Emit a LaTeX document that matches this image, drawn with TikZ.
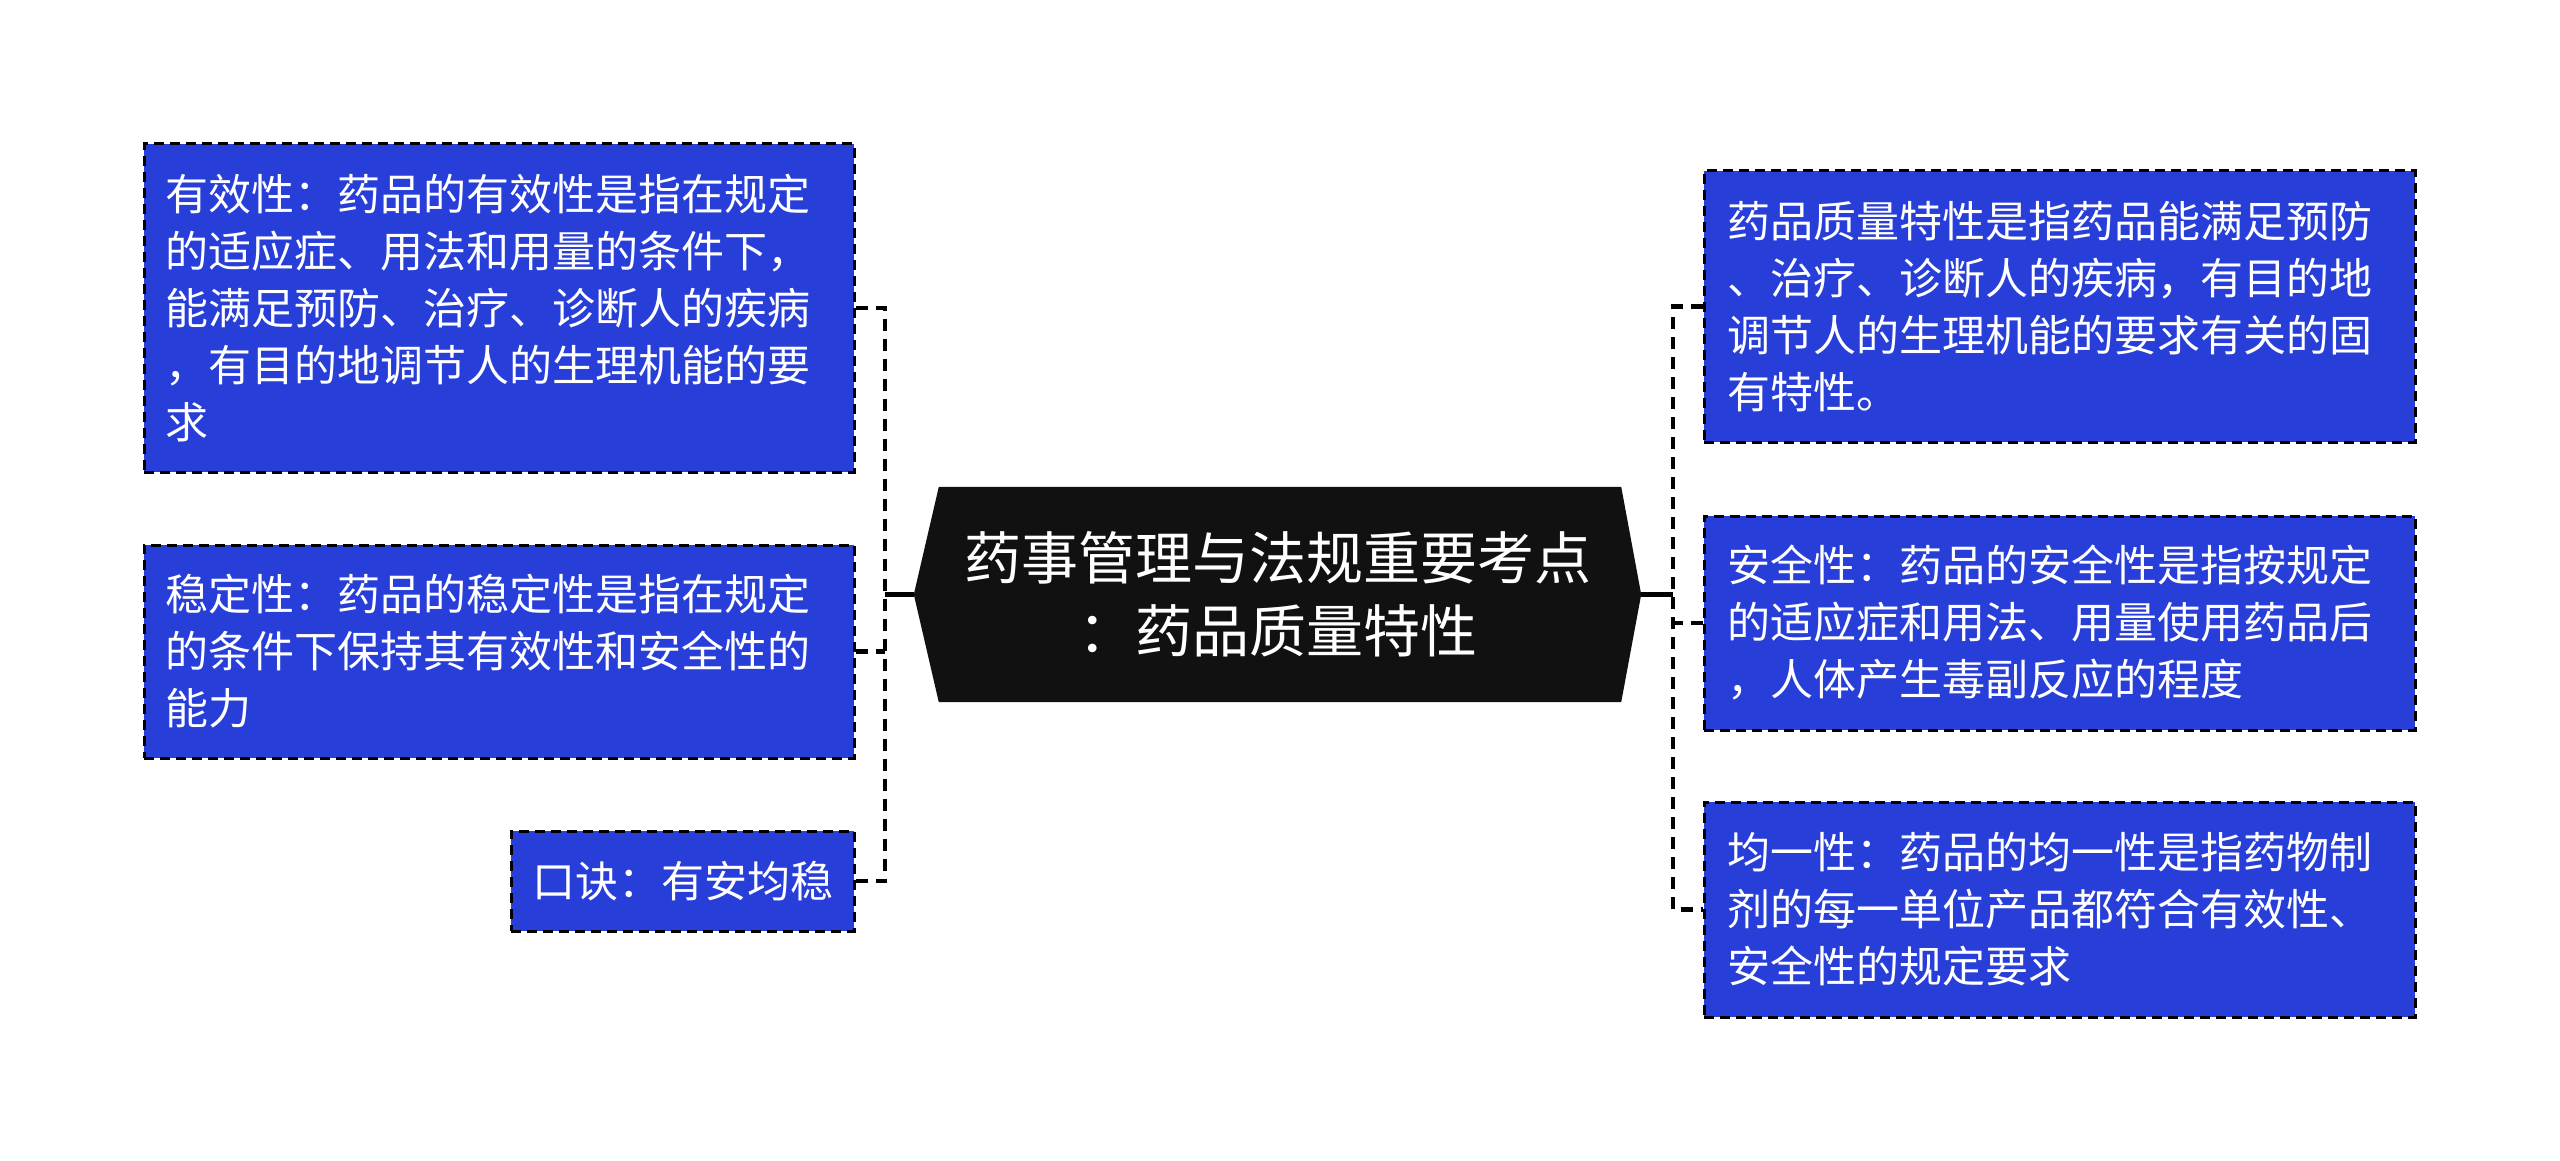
\documentclass[tikz,border=0pt]{standalone}
\usepackage{fontspec}
\newfontfamily\cjk{Noto Sans CJK SC}
\definecolor{boxblue}{RGB}{40,62,216}
\definecolor{centerblack}{RGB}{17,17,17}
\tikzset{
  leaf/.style={draw=black, line width=3pt, dash pattern=on 10pt off 6pt, fill=boxblue,
    text=white, inner sep=0pt, font=\cjk\fontsize{43}{57}\selectfont, align=left},
  conn/.style={black, line width=4.5pt, dash pattern=on 12pt off 8pt},
  solidconn/.style={black, line width=4.5pt}
}
\begin{document}
\begin{tikzpicture}[x=1pt,y=-1pt]
\useasboundingbox[fill=white] (0,0) rectangle (2560,1161);

% left boxes
\node[leaf, minimum width=710pt, minimum height=328pt, text width=668pt] (L1) at (499,308)
  {有效性：药品的有效性是指在规定\\的适应症、用法和用量的条件下，\\能满足预防、治疗、诊断人的疾病\\，有目的地调节人的生理机能的要\\求};
\node[leaf, minimum width=710pt, minimum height=213pt, text width=668pt] (L2) at (499,651.5)
  {稳定性：药品的稳定性是指在规定\\的条件下保持其有效性和安全性的\\能力};
\node[leaf, minimum width=343pt, minimum height=100pt, align=center] (L3) at (682.5,881)
  {口诀：有安均稳};

% right boxes
\node[leaf, minimum width=711pt, minimum height=271pt, text width=665pt] (R1) at (2059.5,306.5)
  {药品质量特性是指药品能满足预防\\、治疗、诊断人的疾病，有目的地\\调节人的生理机能的要求有关的固\\有特性。};
\node[leaf, minimum width=711pt, minimum height=214pt, text width=665pt] (R2) at (2059.5,623)
  {安全性：药品的安全性是指按规定\\的适应症和用法、用量使用药品后\\，人体产生毒副反应的程度};
\node[leaf, minimum width=711pt, minimum height=215pt, text width=665pt] (R3) at (2059.5,909.5)
  {均一性：药品的均一性是指药物制\\剂的每一单位产品都符合有效性、\\安全性的规定要求};

% center
\node[minimum width=727pt, minimum height=215pt, inner sep=0pt] (C) at (1277.5,594.5) {};
\fill[centerblack] ([xshift=25pt]C.north west) -- ([xshift=-20pt]C.north east) -- (C.east)
  -- ([xshift=-20pt]C.south east) -- ([xshift=25pt]C.south west) -- (C.west) -- cycle;
\node[text=white, font=\cjk\fontsize{57}{73}\selectfont, align=center] (CT) at (C.center)
  {药事管理与法规重要考点\\：药品质量特性};

% connectors
\coordinate (lx) at (885,0);
\coordinate (rx) at (1673,0);
\draw[conn] (L1.east) -- (L1.east -| lx) -- (L3.east -| lx) -- (L3.east);
\draw[conn] (L2.east) -- (L2.east -| lx);
\draw[solidconn] (C.west) -- (C.west -| lx);
\draw[conn] (R1.west) -- (R1.west -| rx) -- (R3.west -| rx) -- (R3.west);
\draw[conn] (R2.west) -- (R2.west -| rx);
\draw[solidconn] (C.east) -- (C.east -| rx);
\end{tikzpicture}
\end{document}
